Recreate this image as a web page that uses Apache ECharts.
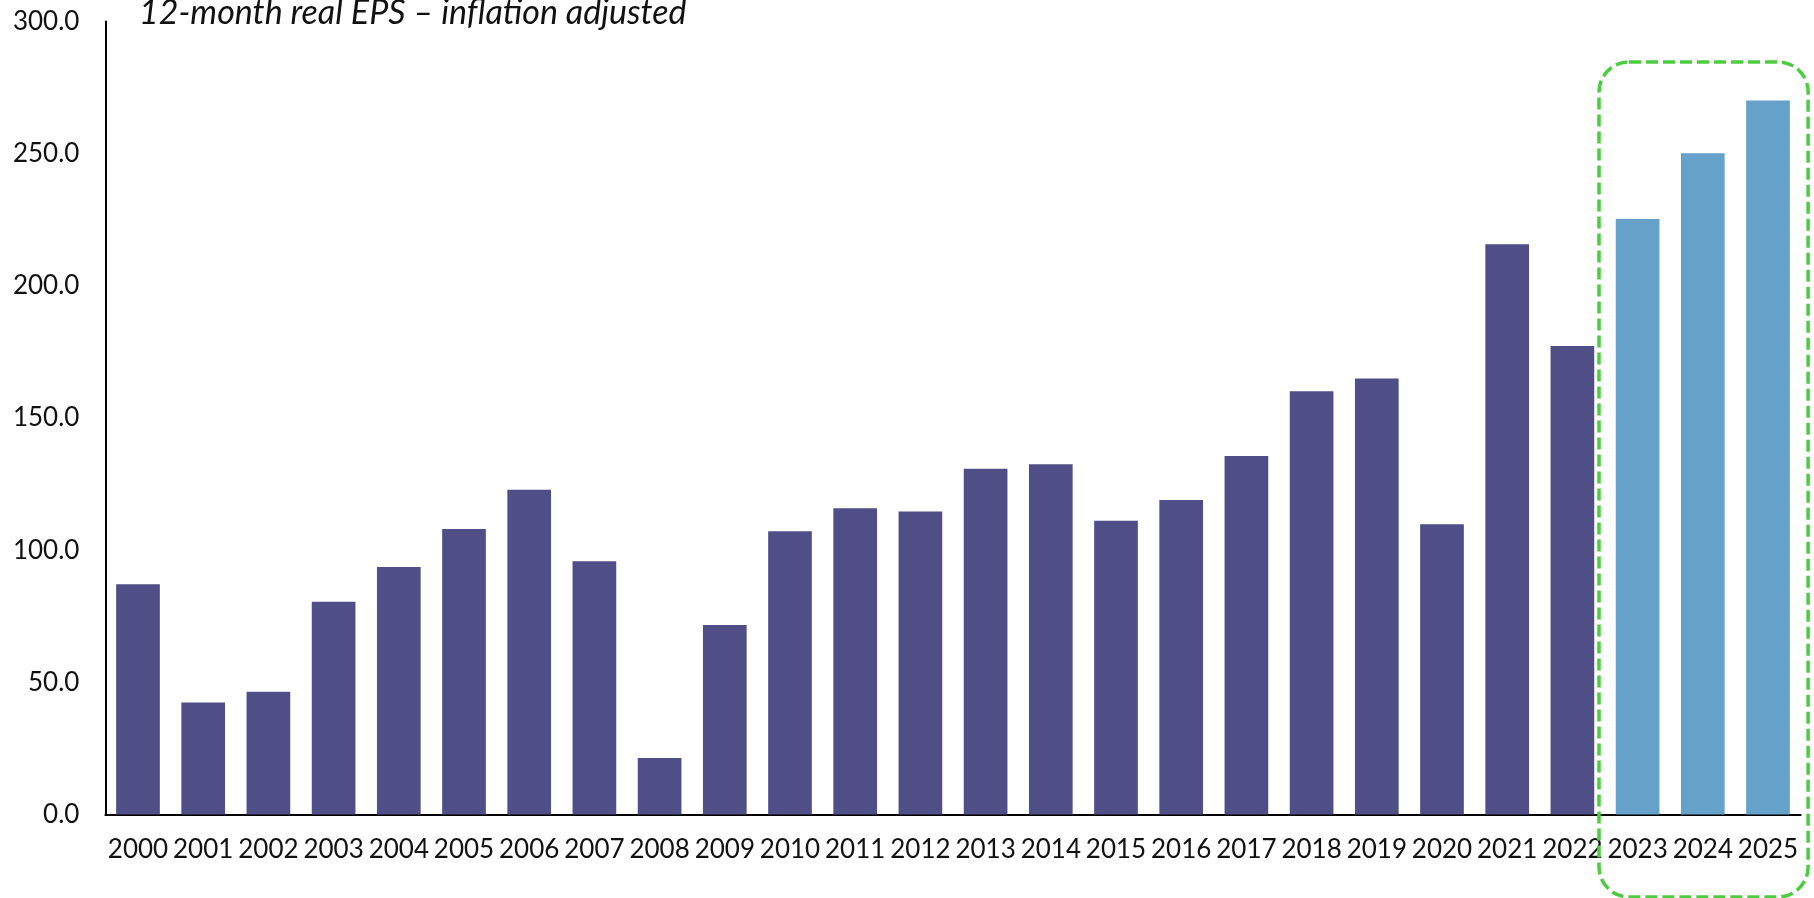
<!DOCTYPE html>
<html>
<head>
<meta charset="utf-8">
<script src="https://cdn.jsdelivr.net/npm/echarts@6/dist/echarts.min.js"></script>
<style>
html,body{margin:0;padding:0;background:#fff;}
#chart{width:1814px;height:898px;}
</style>
</head>
<body>
<div id="chart"></div>
<script>
const titleText = '12-month real EPS \u2013 inflation adjusted';
const years = ['2000','2001','2002','2003','2004','2005','2006','2007','2008','2009','2010','2011','2012','2013','2014','2015','2016','2017','2018','2019','2020','2021','2022','2023','2024','2025'];
const eps = [87.1,42.4,46.4,80.5,93.6,108.0,122.9,95.8,21.4,71.7,107.2,115.9,114.6,130.8,132.5,111.1,119.0,135.6,160.1,164.9,109.8,215.7,177.2,225.3,250.2,270.1];
const forecastYears = ['2023','2024','2025'];
const yTicks = [0,50,100,150,200,250,300];

const darkColor = '#4F4E87';
const lightColor = '#65A1C9';
const boxColor = '#4CCD3F';
const FONT = 'Lato';

const chart = echarts.init(document.getElementById('chart'), null, {renderer:'canvas'});

const barData = years.map((y,i)=>({
  value: eps[i],
  itemStyle:{color: forecastYears.includes(y) ? lightColor : darkColor}
}));

chart.setOption({
  animation:false,
  backgroundColor:'#fff',
  title:{
    text:titleText,
    left:134, top:-9,
    textStyle:{fontFamily:FONT,fontStyle:'italic',fontWeight:'normal',fontSize:34,color:'#111'}
  },
  grid:{left:105.4,right:13.4,top:21.5,bottom:83.5,containLabel:false},
  xAxis:{
    type:'category',
    data:years,
    axisLine:{show:true,lineStyle:{color:'#000',width:2}},
    axisTick:{show:false},
    axisLabel:{color:'#111',fontFamily:FONT,fontSize:26,margin:22,interval:0}
  },
  yAxis:{
    type:'value',
    min:yTicks[0], max:yTicks[yTicks.length-1], interval:50,
    axisLine:{show:true,lineStyle:{color:'#000',width:2}},
    axisTick:{show:false},
    splitLine:{show:false},
    axisLabel:{color:'#111',fontFamily:FONT,fontSize:26,margin:26,formatter:v=>v.toFixed(1)}
  },
  series:[{
    type:'bar',
    data:barData,
    barCategoryGap:'33%'
  }]
});

function drawBox(){
  const firstIdx = years.indexOf(forecastYears[0]);
  const c0 = chart.convertToPixel({xAxisIndex:0}, years[0]);
  const c1 = chart.convertToPixel({xAxisIndex:0}, years[1]);
  const pitch = c1 - c0;
  const cf = chart.convertToPixel({xAxisIndex:0}, years[firstIdx]);
  const cl = chart.convertToPixel({xAxisIndex:0}, years[years.length-1]);
  const x0 = cf - pitch/2 - 6;
  const x1 = cl + pitch/2 + 7.5;
  const yTop = chart.convertToPixel({yAxisIndex:0}, 284.7);
  const yBot = 897;
  chart.setOption({
    graphic:[{
      type:'rect',
      shape:{x:x0,y:yTop,width:x1-x0,height:yBot-yTop,r:30},
      style:{fill:'none',stroke:boxColor,lineWidth:3.5,lineDash:[12,5]},
      z:100
    }]
  });
}
drawBox();
</script>
</body>
</html>
